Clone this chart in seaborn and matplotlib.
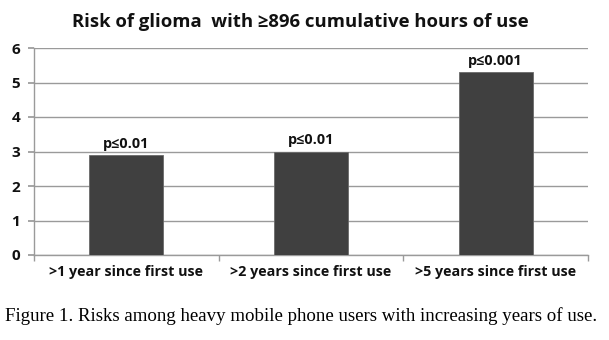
import matplotlib
matplotlib.use("Agg")
import matplotlib.pyplot as plt
import seaborn as sns
import pandas as pd
from matplotlib.ticker import FixedLocator

categories = [">1 year since first use", ">2 years since first use", ">5 years since first use"]
risk = [2.9, 3.0, 5.3]
pvals = ["p\u22640.01", "p\u22640.01", "p\u22640.001"]
yticks = [0, 1, 2, 3, 4, 5, 6]

df = pd.DataFrame({"cat": categories, "risk": risk})

sns.set_theme(style="white")
plt.rcParams['font.family'] = ['Open Sans', 'DejaVu Sans']

fig = plt.figure(figsize=(6.09, 3.40), dpi=100)
ax = fig.add_axes([34/609, 1-255/340, (588-34)/609, (255-48)/340])

sns.barplot(data=df, x="cat", y="risk", ax=ax, color="#404040", width=0.4,
            edgecolor="#6a6a6a", linewidth=0.6, saturation=1, zorder=3)

ax.set_ylim(0, 6)
ax.set_xlim(-0.5, 2.5)
ax.set_yticks(yticks)
ax.set_yticklabels([str(t) for t in yticks], fontsize=11, fontweight="bold", color="#111111")
ax.yaxis.grid(True, color="#9a9a9a", linewidth=1.0, zorder=0)
ax.set_axisbelow(True)
for s in ["top", "right"]:
    ax.spines[s].set_visible(False)
ax.spines["left"].set_color("#9a9a9a")
ax.spines["bottom"].set_color("#9a9a9a")
ax.spines["left"].set_linewidth(1.0)
ax.spines["bottom"].set_linewidth(1.0)

ax.tick_params(axis="y", which="major", left=True, length=4, color="#9a9a9a", pad=6)
ax.tick_params(axis="x", which="major", length=0, pad=7)
ax.xaxis.set_minor_locator(FixedLocator([-0.5, 0.5, 1.5, 2.5]))
ax.tick_params(axis="x", which="minor", bottom=True, length=4, color="#9a9a9a")
ax.set_xticks(range(len(categories)))
ax.set_xticklabels(categories, fontsize=10.3, fontweight="bold", color="#111111")
ax.set_xlabel("")
ax.set_ylabel("")

for i, (v, p) in enumerate(zip(risk, pvals)):
    ax.text(i, v + 0.12, p, ha="center", va="bottom", fontsize=10.4, fontweight="bold", color="#111111")

fig.text(300/609, 1-22/340, "Risk of glioma  with \u2265896 cumulative hours of use",
         ha="center", va="center", fontsize=13.3, fontweight="bold", color="#111111")
fig.text(5/609, 1-316/340, "Figure 1. Risks among heavy mobile phone users with increasing years of use.",
         ha="left", va="center", fontsize=13.6, family=["Liberation Serif", "DejaVu Serif"], color="#000000")

fig.savefig("out.png", dpi=100, facecolor="white")
